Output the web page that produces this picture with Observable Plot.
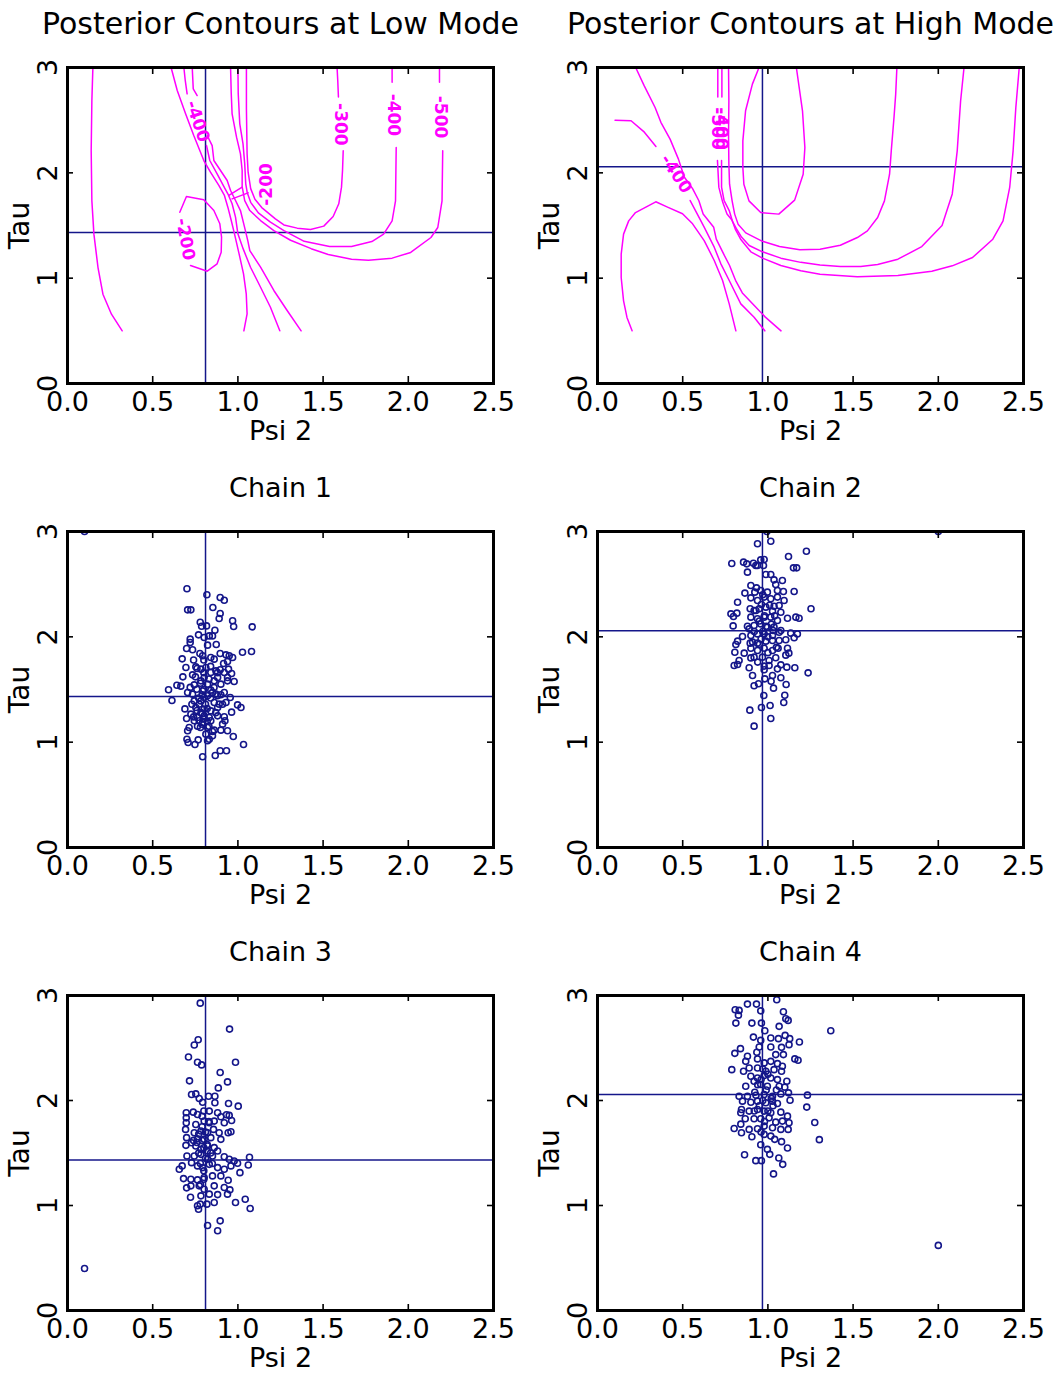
<!DOCTYPE html>
<html><head><meta charset="utf-8">
<script src="https://cdn.jsdelivr.net/npm/d3@7"></script>
<script src="https://cdn.jsdelivr.net/npm/@observablehq/plot@0.6"></script>
<style>
body{margin:0;background:#fff;}
#root{position:relative;width:1055px;height:1376px;background:#fff;overflow:hidden;}
.panel{position:absolute;top:0;left:0;}
.panel svg{overflow:visible;}
</style></head><body><div id="root"></div>
<script>
// ---------------- data ----------------
const xTickLabels = [0, 0.5, 1, 1.5, 2, 2.5];
const yTickLabels = [0, 1, 2, 3];
const xInnerTicks = [0.5, 1, 1.5, 2];
const yInnerTicks = [1, 2];

const lowMode = {psi: 0.81, tau: 1.434};
const highMode = {psi: 0.968, tau: 2.057};

// Low-mode contour polylines (Psi 2, Tau)
const lowA = [[0.149,3.0],[0.143,2.684],[0.139,2.209],[0.143,1.734],[0.155,1.418],[0.179,1.101],[0.208,0.848],[0.258,0.658],[0.321,0.5]];
const lowLoop = [[0.659,1.626],[0.698,1.775],[0.800,1.744],[0.859,1.642],[0.894,1.516],[0.904,1.389],[0.902,1.247],[0.878,1.136],[0.820,1.066],[0.722,1.120]];
const lowP1 = [[0.608,3.0],[0.644,2.782],[0.693,2.560],[0.741,2.354],[0.800,2.117],[0.839,2.006],[0.888,1.880],[0.921,1.785],[0.941,1.674],[0.961,1.547],[0.980,1.421],[1.007,1.231],[1.033,1.041],[1.049,0.851],[1.054,0.661],[1.035,0.5]];
const lowP2a = [[0.683,3.0],[0.691,2.877],[0.702,2.750]];
const lowP2b = [[0.816,2.259],[0.835,2.117],[0.878,1.990],[0.914,1.880],[0.941,1.801],[0.966,1.706],[0.986,1.579],[1.000,1.421],[1.031,1.278],[1.074,1.104],[1.133,0.914],[1.191,0.724],[1.246,0.5]];
const lowP3a = [[0.732,3.0],[0.738,2.797],[0.761,2.734]];
const lowP3b = [[0.820,2.354],[0.849,2.259],[0.859,2.117],[0.898,2.022],[0.937,1.927],[0.957,1.832],[0.986,1.737],[1.015,1.642],[1.039,1.484],[1.058,1.357],[1.070,1.262],[1.133,1.104],[1.211,0.883],[1.289,0.693],[1.371,0.5]];
const lowS1 = [[0.947,1.785],[1.025,1.864]];
const lowS2 = [[0.966,1.753],[1.060,1.810]];
const lowU1 = [[1.050,3.0],[1.050,2.61],[1.054,2.18],[1.060,2.006],[1.075,1.85],[1.100,1.75],[1.140,1.67],[1.220,1.563],[1.270,1.505],[1.348,1.475],[1.426,1.462],[1.504,1.494],[1.559,1.585],[1.592,1.706],[1.608,1.864],[1.614,2.022],[1.618,2.21]];
const lowU1top = [[1.582,3.0],[1.586,2.877],[1.590,2.72]];
const lowU2 = [[1.000,3.0],[1.002,2.750],[1.011,2.465],[1.030,2.275],[1.040,2.085],[1.046,1.896],[1.055,1.810],[1.075,1.72],[1.120,1.62],[1.191,1.532],[1.270,1.452],[1.389,1.35],[1.538,1.30],[1.667,1.30],[1.786,1.348],[1.855,1.418],[1.905,1.544],[1.925,1.734],[1.929,2.241]];
const lowU2top = [[1.905,3.0],[1.905,2.86]];
const lowU3 = [[0.957,3.0],[0.961,2.750],[0.966,2.560],[0.992,2.339],[1.015,2.180],[1.025,2.022],[1.025,1.870],[1.040,1.737],[1.070,1.642],[1.133,1.547],[1.211,1.452],[1.309,1.36],[1.430,1.28],[1.530,1.225],[1.667,1.18],[1.766,1.171],[1.905,1.190],[2.014,1.244],[2.133,1.386],[2.173,1.481],[2.198,1.734],[2.202,2.209]];
const lowU3top = [[2.183,3.0],[2.183,2.86]];
const lowLabels = [
  {text:"-400", psi:0.764, tau:2.49, angle:72},
  {text:"-200", psi:0.692, tau:1.37, angle:80},
  {text:"-200", psi:1.170, tau:1.89, angle:-90},
  {text:"-300", psi:1.600, tau:2.46, angle:90},
  {text:"-400", psi:1.915, tau:2.55, angle:90},
  {text:"-500", psi:2.190, tau:2.53, angle:90}
];

// High-mode contour polylines
const highArch = [[0.203,0.5],[0.173,0.627],[0.153,0.785],[0.139,1.006],[0.139,1.228],[0.153,1.418],[0.183,1.544],[0.223,1.623],[0.342,1.725],[0.411,1.674],[0.499,1.611],[0.558,1.516],[0.626,1.357],[0.685,1.168],[0.734,0.978],[0.773,0.756],[0.812,0.5]];
const highH2a = [[0.103,2.5],[0.197,2.494],[0.275,2.386],[0.343,2.25]];
const highH2b = [[0.544,1.737],[0.626,1.484],[0.685,1.294],[0.724,1.136],[0.773,0.978],[0.841,0.756],[0.919,0.629],[0.982,0.5]];
const highH3 = [[0.224,3.0],[0.273,2.83],[0.338,2.62],[0.372,2.48],[0.426,2.32],[0.475,2.13],[0.491,2.05],[0.509,1.96],[0.558,1.85],[0.595,1.735],[0.620,1.61],[0.682,1.483],[0.697,1.37],[0.740,1.23],[0.775,1.12],[0.810,0.98],[0.850,0.86],[0.920,0.74],[0.985,0.63],[1.077,0.5]];
const highLoop = [[0.948,3.0],[0.909,2.842],[0.869,2.589],[0.853,2.304],[0.853,2.051],[0.859,1.892],[0.889,1.734],[0.958,1.623],[1.064,1.608],[1.157,1.741],[1.207,1.987],[1.217,2.241],[1.203,2.589],[1.167,3.0]];
const highU1 = [[0.769,3.0],[0.771,2.684],[0.769,2.367],[0.771,2.082],[0.775,1.892],[0.790,1.734],[0.805,1.608],[0.825,1.513],[0.870,1.43],[0.968,1.35],[1.068,1.30],[1.187,1.270],[1.306,1.275],[1.425,1.313],[1.525,1.386],[1.584,1.449],[1.644,1.576],[1.684,1.734],[1.714,1.987],[1.724,2.209],[1.740,2.525],[1.750,2.747],[1.757,3.0]];
const highU2top = [[0.730,3.0],[0.730,2.72]];
const highU2 = [[0.728,2.117],[0.728,1.864],[0.743,1.737],[0.773,1.642],[0.792,1.54],[0.815,1.47],[0.845,1.39],[0.890,1.31],[0.968,1.25],[1.076,1.19],[1.193,1.15],[1.306,1.125],[1.425,1.111],[1.545,1.111],[1.644,1.13],[1.763,1.18],[1.903,1.30],[2.022,1.50],[2.082,1.80],[2.111,2.209],[2.131,2.684],[2.151,3.0]];
const highU3top = [[0.706,3.0],[0.706,2.72]];
const highU3 = [[0.704,2.117],[0.712,1.864],[0.735,1.72],[0.760,1.61],[0.790,1.55],[0.810,1.46],[0.840,1.37],[0.900,1.25],[0.968,1.19],[1.076,1.12],[1.193,1.07],[1.306,1.038],[1.525,1.013],[1.763,1.025],[1.962,1.065],[2.082,1.117],[2.201,1.196],[2.320,1.370],[2.380,1.544],[2.419,1.861],[2.439,2.209],[2.455,2.620],[2.475,3.0]];
const highLabels = [
  {text:"-400", psi:0.461, tau:1.99, angle:57},
  {text:"-500", psi:0.706, tau:2.42, angle:90},
  {text:"-400", psi:0.730, tau:2.42, angle:90}
];

// MCMC chain draws (Psi 2, Tau)
const chain1 = [[0.10,3.0],[0.701,2.456],[0.818,2.399],[0.896,2.373],[0.920,2.348],[0.705,2.256],[0.724,2.256],[0.853,2.278],[0.896,2.222],[0.890,2.174],[0.969,2.152],[0.975,2.098],[1.084,2.095],[0.779,2.139],[0.787,2.101],[0.816,2.104],[0.865,2.063],[0.720,1.978],[0.769,2.019],[0.802,1.994],[0.832,2.009],[0.851,2.009],[0.720,1.946],[0.699,1.889],[0.734,1.877],[0.777,1.842],[0.822,1.921],[0.873,1.927],[1.027,1.854],[1.080,1.861],[0.673,1.791],[0.793,1.820],[0.841,1.804],[0.861,1.788],[0.896,1.842],[0.930,1.829],[0.949,1.820],[0.969,1.804],[0.939,1.766],[0.916,1.747],[0.695,1.709],[0.753,1.715],[0.783,1.693],[0.812,1.709],[0.841,1.661],[0.871,1.677],[0.896,1.687],[0.920,1.661],[0.945,1.693],[0.963,1.652],[0.734,1.639],[0.751,1.620],[0.802,1.614],[0.881,1.614],[0.939,1.614],[0.677,1.620],[0.642,1.541],[0.665,1.532],[0.593,1.497],[0.744,1.544],[0.759,1.503],[0.783,1.582],[0.822,1.551],[0.861,1.582],[0.900,1.551],[0.939,1.582],[0.978,1.576],[0.705,1.472],[0.734,1.456],[0.793,1.487],[0.841,1.494],[0.871,1.456],[0.920,1.472],[0.955,1.424],[0.613,1.396],[0.744,1.392],[0.773,1.361],[0.822,1.440],[0.861,1.377],[0.890,1.361],[0.930,1.377],[0.998,1.354],[1.018,1.329],[0.689,1.316],[0.753,1.329],[0.802,1.313],[0.841,1.297],[0.881,1.329],[0.963,1.285],[0.699,1.225],[0.763,1.234],[0.802,1.250],[0.841,1.203],[0.881,1.250],[0.920,1.241],[0.714,1.139],[0.763,1.152],[0.793,1.187],[0.822,1.139],[0.861,1.114],[0.900,1.114],[0.924,1.203],[0.939,1.108],[0.705,1.108],[0.701,1.028],[0.708,0.997],[0.767,1.022],[0.822,1.013],[0.832,1.028],[0.851,1.101],[0.973,1.054],[0.748,0.978],[1.033,0.978],[0.793,0.861],[0.867,0.873],[0.896,0.918],[0.933,0.918],[0.783,1.392],[0.802,1.424],[0.783,1.282],[0.773,1.203],[0.832,1.234],[0.724,1.266],[0.744,1.203],[0.910,1.171],[0.812,1.076],[0.851,1.060],[0.79,1.45],[0.80,1.50],[0.81,1.36],[0.82,1.32],[0.79,1.27],[0.80,1.22],[0.84,1.42],[0.85,1.47],[0.77,1.42],[0.76,1.30],[0.78,1.56],[0.83,1.60],[0.80,1.66],[0.76,1.70],[0.86,1.52],[0.88,1.44],[0.87,1.28],[0.79,1.17],[0.82,1.20],[0.74,1.24],[0.84,1.72],[0.80,1.78],[0.74,1.78],[0.88,1.66],[0.90,1.45],[0.91,1.36],[0.73,1.36],[0.78,1.14],[0.83,1.15],[0.72,1.52]];
const chain2 = [[2.0,3.0],[0.994,3.0],[0.939,2.883],[1.017,2.908],[1.226,2.813],[1.121,2.763],[1.150,2.655],[1.169,2.655],[0.788,2.696],[0.857,2.709],[0.876,2.693],[0.915,2.699],[0.929,2.677],[0.958,2.731],[0.978,2.734],[0.880,2.614],[0.939,2.677],[0.974,2.677],[0.988,2.592],[1.017,2.592],[1.036,2.541],[1.085,2.535],[1.046,2.497],[0.900,2.487],[0.933,2.465],[0.958,2.440],[0.865,2.415],[0.923,2.424],[0.997,2.424],[1.056,2.440],[1.091,2.430],[1.154,2.430],[0.822,2.329],[0.900,2.370],[0.939,2.345],[0.978,2.377],[1.017,2.361],[1.056,2.377],[1.095,2.345],[0.962,2.307],[1.036,2.291],[1.066,2.297],[0.783,2.218],[0.818,2.225],[0.896,2.266],[0.919,2.250],[0.949,2.266],[0.988,2.282],[1.027,2.244],[1.076,2.234],[1.115,2.177],[1.164,2.187],[1.183,2.177],[1.253,2.266],[0.798,2.193],[0.900,2.187],[0.939,2.171],[0.978,2.187],[1.017,2.187],[1.056,2.155],[0.796,2.104],[0.890,2.076],[0.919,2.108],[0.958,2.123],[0.997,2.092],[1.036,2.092],[1.076,2.060],[0.900,2.013],[0.939,2.028],[0.978,2.028],[1.027,2.013],[1.066,2.044],[1.134,2.035],[1.173,2.028],[0.851,2.003],[0.822,1.959],[0.812,1.927],[0.896,1.940],[0.939,1.940],[0.988,1.959],[1.027,1.965],[1.066,1.965],[1.105,1.972],[1.154,1.991],[0.806,1.854],[0.861,1.845],[0.900,1.892],[0.939,1.870],[0.978,1.892],[1.027,1.870],[1.060,1.892],[1.115,1.892],[1.123,1.845],[1.105,1.826],[0.831,1.775],[0.919,1.807],[0.968,1.807],[1.007,1.775],[1.046,1.801],[0.802,1.728],[0.822,1.737],[0.890,1.706],[0.978,1.722],[1.007,1.728],[1.056,1.696],[1.076,1.734],[1.111,1.712],[1.158,1.706],[1.236,1.658],[0.910,1.633],[0.978,1.687],[0.982,1.601],[1.027,1.633],[1.076,1.611],[1.107,1.547],[0.919,1.535],[0.945,1.554],[1.019,1.579],[1.033,1.513],[0.976,1.443],[1.099,1.446],[1.093,1.377],[0.894,1.304],[0.962,1.329],[1.013,1.348],[1.017,1.225],[0.919,1.152],[0.97,2.05],[0.99,2.10],[1.00,2.00],[0.95,2.15],[1.02,2.12],[0.96,1.98],[1.04,2.20],[0.93,2.25],[1.01,2.30],[0.95,1.93],[0.98,2.20],[1.05,1.90],[0.92,2.05],[0.90,1.80],[0.94,1.76],[1.00,1.85],[1.03,2.06],[0.97,2.40],[0.91,1.95],[0.88,2.10]];
const chain3 = [[0.10,0.40],[0.779,2.927],[0.951,2.680],[0.767,2.579],[0.744,2.528],[0.710,2.415],[0.763,2.364],[0.787,2.339],[0.986,2.364],[0.896,2.266],[0.939,2.177],[0.716,2.187],[0.885,2.120],[0.728,2.057],[0.753,2.063],[0.773,2.019],[0.828,2.041],[0.865,2.041],[0.793,1.984],[0.865,1.978],[0.945,1.972],[1.002,1.946],[0.697,1.883],[0.738,1.889],[0.763,1.867],[0.832,1.899],[0.881,1.883],[0.900,1.845],[0.933,1.864],[0.949,1.858],[0.963,1.810],[0.697,1.835],[0.697,1.788],[0.753,1.772],[0.802,1.804],[0.832,1.788],[0.861,1.804],[0.920,1.788],[0.943,1.693],[0.959,1.703],[0.693,1.725],[0.744,1.693],[0.783,1.709],[0.822,1.693],[0.857,1.725],[0.890,1.693],[0.699,1.646],[0.763,1.636],[0.802,1.630],[0.841,1.646],[0.900,1.630],[0.728,1.598],[0.695,1.573],[0.753,1.566],[0.783,1.535],[0.822,1.566],[0.861,1.551],[0.881,1.519],[0.701,1.472],[0.744,1.472],[0.783,1.487],[0.822,1.440],[0.851,1.472],[0.920,1.465],[0.949,1.440],[0.978,1.424],[0.998,1.402],[1.068,1.459],[1.061,1.386],[0.656,1.345],[0.673,1.377],[0.728,1.408],[0.763,1.377],[0.793,1.361],[0.832,1.392],[0.881,1.361],[0.920,1.345],[0.959,1.377],[1.012,1.313],[0.681,1.256],[0.724,1.250],[0.763,1.244],[0.802,1.266],[0.851,1.282],[0.900,1.282],[0.943,1.241],[0.699,1.168],[0.724,1.187],[0.773,1.187],[0.802,1.155],[0.861,1.187],[0.920,1.171],[0.953,1.149],[0.722,1.079],[0.783,1.092],[0.832,1.108],[0.881,1.104],[0.939,1.108],[0.779,1.013],[0.818,1.013],[0.861,1.028],[0.763,0.997],[0.769,0.965],[0.986,1.028],[1.043,1.060],[1.072,0.972],[0.822,0.810],[0.896,0.854],[0.881,0.759],[0.80,1.55],[0.81,1.45],[0.79,1.62],[0.82,1.52],[0.78,1.40],[0.80,1.33],[0.84,1.50],[0.77,1.68],[0.79,1.75],[0.83,1.80],[0.81,1.70],[0.77,1.50],[0.80,1.25],[0.78,1.20],[0.82,1.58],[0.76,1.60],[0.85,1.40],[0.79,1.85],[0.74,1.62],[0.80,1.90]];
const chain4 = [[2.0,0.62],[1.052,2.959],[0.880,2.918],[0.933,2.918],[0.808,2.864],[0.831,2.858],[0.958,2.854],[1.091,2.845],[0.827,2.813],[1.105,2.778],[1.119,2.763],[0.812,2.737],[0.906,2.737],[0.962,2.737],[1.066,2.706],[1.369,2.665],[0.982,2.665],[1.101,2.620],[0.915,2.604],[1.128,2.589],[0.958,2.573],[1.017,2.595],[1.062,2.589],[1.185,2.557],[1.124,2.532],[0.949,2.509],[1.017,2.509],[1.080,2.506],[0.839,2.494],[0.806,2.449],[0.935,2.459],[0.880,2.421],[1.046,2.437],[1.091,2.437],[1.158,2.396],[1.177,2.383],[0.939,2.396],[0.870,2.373],[0.978,2.358],[1.017,2.373],[1.056,2.351],[1.085,2.326],[0.788,2.294],[0.857,2.278],[0.890,2.310],[0.939,2.310],[0.988,2.278],[1.036,2.294],[1.080,2.278],[0.939,2.215],[0.900,2.231],[0.919,2.184],[0.978,2.237],[1.017,2.215],[1.056,2.199],[1.111,2.184],[0.870,2.136],[0.958,2.152],[0.997,2.136],[1.066,2.136],[1.099,2.127],[0.831,2.041],[0.880,2.041],[0.923,2.079],[0.978,2.057],[1.027,2.041],[1.076,2.063],[1.121,2.073],[1.232,2.051],[0.851,1.994],[0.900,1.984],[0.939,1.994],[0.988,1.978],[1.027,1.994],[1.056,1.972],[1.130,2.003],[0.845,1.915],[0.841,1.883],[0.890,1.899],[0.939,1.915],[0.978,1.899],[1.017,1.883],[1.076,1.889],[1.115,1.851],[1.228,1.937],[0.867,1.826],[0.919,1.826],[0.958,1.826],[1.007,1.835],[1.046,1.794],[1.085,1.804],[1.124,1.788],[1.275,1.791],[0.841,1.775],[0.802,1.734],[0.890,1.725],[0.939,1.731],[0.978,1.756],[1.027,1.741],[1.076,1.725],[1.119,1.725],[0.845,1.693],[0.906,1.655],[0.978,1.677],[1.017,1.661],[1.040,1.630],[1.080,1.608],[1.302,1.627],[0.958,1.579],[0.997,1.535],[1.115,1.547],[0.863,1.484],[0.929,1.427],[0.962,1.427],[1.011,1.487],[1.064,1.453],[1.087,1.392],[1.033,1.301],[0.97,2.00],[0.99,2.10],[0.95,1.95],[1.00,1.90],[0.96,2.20],[1.02,2.02],[0.93,2.05],[0.98,1.80],[1.03,1.95],[0.94,2.15],[0.97,2.30],[1.00,2.25],[0.92,1.90],[1.05,2.10],[0.96,1.70]];

// ---------------- drawing ----------------
const FONT = "'DejaVu Sans', sans-serif";
const MAGENTA = "#ff00ff";
const NAVY = "#14168a";
const H = 464;

function axesMarks(titleText, titleSize) {
  return [
    Plot.tickX(xInnerTicks, {x: d => d, insetTop: 309, stroke: "black", strokeWidth: 1.6}),
    Plot.tickX(xInnerTicks, {x: d => d, insetBottom: 309, stroke: "black", strokeWidth: 1.6}),
    Plot.tickY(yInnerTicks, {y: d => d, insetRight: 420, stroke: "black", strokeWidth: 1.6}),
    Plot.tickY(yInnerTicks, {y: d => d, insetLeft: 420, stroke: "black", strokeWidth: 1.6}),
    Plot.frame({stroke: "black", strokeWidth: 3}),
    Plot.text(xTickLabels, {x: d => d, text: d => d3.format(".1f")(d), frameAnchor: "bottom", dy: 19, lineAnchor: "middle", textAnchor: "middle", fontSize: 27, fill: "black"}),
    Plot.text(yTickLabels, {y: d => d, text: d => String(d), frameAnchor: "left", dx: -19, rotate: -90, lineAnchor: "middle", textAnchor: "middle", fontSize: 27, fill: "black"}),
    Plot.text(["Psi 2"], {text: d => d, frameAnchor: "bottom", dy: 48, lineAnchor: "middle", textAnchor: "middle", fontSize: 27, fill: "black"}),
    Plot.text(["Tau"], {text: d => d, frameAnchor: "left", dx: -47, rotate: -90, lineAnchor: "middle", textAnchor: "middle", fontSize: 28, fill: "black"}),
    Plot.text([titleText], {text: d => d, frameAnchor: "top", dy: -43, lineAnchor: "middle", textAnchor: "middle", fontSize: titleSize, fill: "black"})
  ];
}

function modeMarks(mode) {
  return [
    Plot.ruleX([mode.psi], {x: d => d, stroke: NAVY, strokeWidth: 1.5}),
    Plot.ruleY([mode.tau], {y: d => d, stroke: NAVY, strokeWidth: 1.5})
  ];
}

function contourMarks(lines, labels) {
  const rows = lines.flatMap((pts, i) => pts.map(([psi, tau]) => ({id: i, psi, tau})));
  return [
    Plot.line(rows, {x: "psi", y: "tau", z: "id", stroke: MAGENTA, strokeWidth: 1.5, clip: true}),
    Plot.text(labels, {x: "psi", y: "tau", text: "text", rotate: "angle", fill: MAGENTA, fontSize: 17, fontWeight: "bold", lineAnchor: "middle", textAnchor: "middle"})
  ];
}

function dotMarks(chain) {
  return [Plot.dot(chain, {x: d => d[0], y: d => d[1], r: 3, stroke: NAVY, strokeWidth: 1.6, fill: "none", clip: true})];
}

const panels = [
  {col: 0, row: 0, title: "Posterior Contours at Low Mode", size: 30, mode: lowMode,
   body: contourMarks([lowA, lowLoop, lowP1, lowP2a, lowP2b, lowP3a, lowP3b, lowS1, lowS2, lowU1, lowU1top, lowU2, lowU2top, lowU3, lowU3top], lowLabels)},
  {col: 1, row: 0, title: "Posterior Contours at High Mode", size: 30, mode: highMode,
   body: contourMarks([highArch, highH2a, highH2b, highH3, highLoop, highU1, highU2top, highU2, highU3top, highU3], highLabels)},
  {col: 0, row: 1, title: "Chain 1", size: 27, mode: lowMode, body: dotMarks(chain1)},
  {col: 1, row: 1, title: "Chain 2", size: 27, mode: highMode, body: dotMarks(chain2)},
  {col: 0, row: 2, title: "Chain 3", size: 27, mode: lowMode, body: dotMarks(chain3)},
  {col: 1, row: 2, title: "Chain 4", size: 27, mode: highMode, body: dotMarks(chain4)}
];

const root = document.getElementById("root");
for (const p of panels) {
  const left = p.col === 0 ? 0 : 527;
  const width = p.col === 0 ? 527 : 528;
  const svg = Plot.plot({
    width, height: H,
    marginTop: 67, marginBottom: p.row === 2 ? 82 : 81,
    marginLeft: p.col === 0 ? 67 : 70,
    marginRight: p.col === 0 ? 34 : 32,
    x: {domain: [0, 2.5], axis: null},
    y: {domain: [0, 3], axis: null},
    style: {fontFamily: FONT, background: "transparent", color: "black", overflow: "visible"},
    marks: [...modeMarks(p.mode), ...p.body, ...axesMarks(p.title, p.size)]
  });
  const div = document.createElement("div");
  div.className = "panel";
  div.style.left = left + "px";
  div.style.top = (p.row * H) + "px";
  div.appendChild(svg);
  root.appendChild(div);
}
</script>
</body></html>
